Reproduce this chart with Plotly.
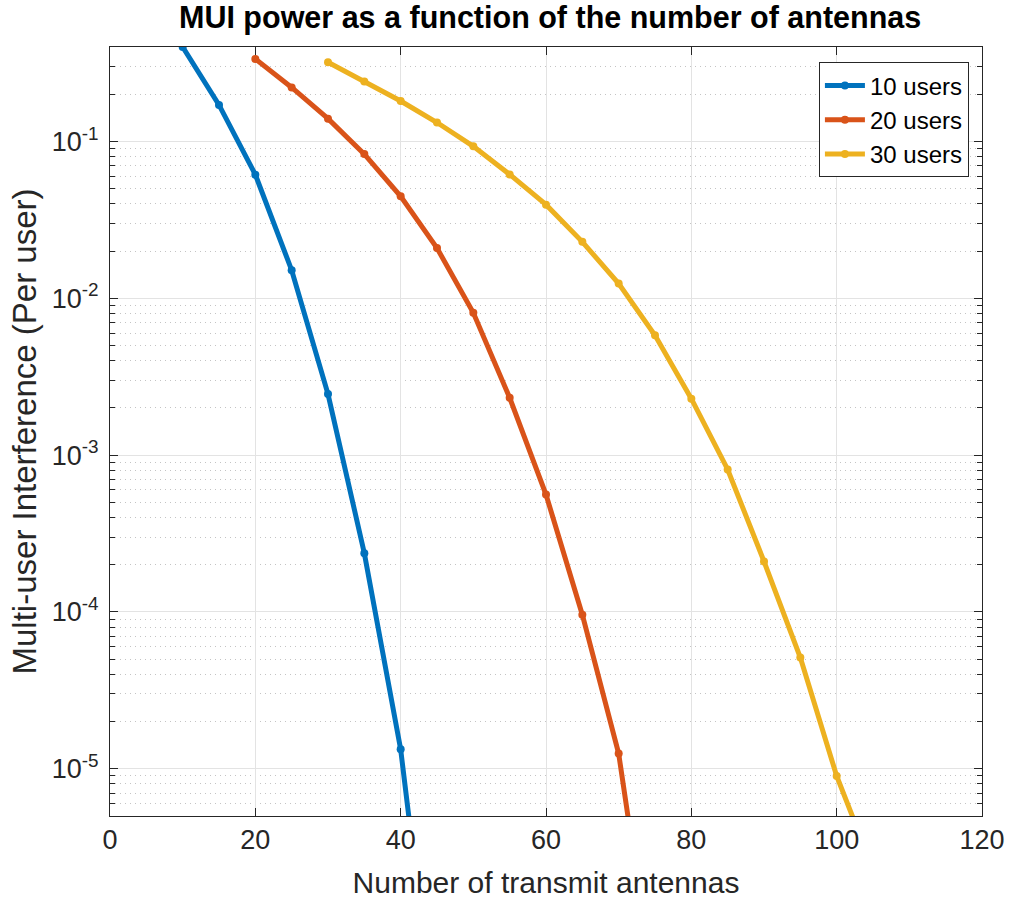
import numpy as np
import plotly.graph_objects as go

antennas_10 = [10, 15, 20, 25, 30, 35, 40, 45]
mui_10 = [0.40, 0.171, 0.0614, 0.0151, 0.00245, 2.37e-4, 1.33e-5, 1.64e-7]

antennas_20 = [20, 25, 30, 35, 40, 45, 50, 55, 60, 65, 70, 75]
mui_20 = [0.336, 0.221, 0.1396, 0.083, 0.0447, 0.0209, 0.00807, 0.00232,
          5.6e-4, 9.6e-5, 1.25e-5, 3.4e-7]

antennas_30 = [30, 35, 40, 45, 50, 55, 60, 65, 70, 75, 80, 85, 90, 95, 100, 105]
mui_30 = [0.32, 0.241, 0.181, 0.132, 0.093, 0.0616, 0.0395, 0.0229, 0.0124,
          0.0058, 0.00229, 8.1e-4, 2.1e-4, 5.12e-5, 9.0e-6, 2.3e-6]

series = [
    ("10 users", antennas_10, mui_10, "#0072BD"),
    ("20 users", antennas_20, mui_20, "#D95319"),
    ("30 users", antennas_30, mui_30, "#EDB120"),
]

x_ticks = [0, 20, 40, 60, 80, 100, 120]
y_major = [1e-5, 1e-4, 1e-3, 1e-2, 1e-1]
y_major_text = ["10<sup>-5</sup>", "10<sup>-4</sup>", "10<sup>-3</sup>",
                "10<sup>-2</sup>", "10<sup>-1</sup>"]
y_minor = [m * 10.0 ** e for e in range(-6, 0) for m in range(2, 10)]

FONT = "Liberation Sans"
AX = "#262626"

fig = go.Figure()
for name, xs, ys, col in series:
    fig.add_trace(go.Scatter(
        x=xs, y=ys, name=name, mode="lines+markers", legendgroup=name,
        line=dict(color=col, width=5),
        marker=dict(color=col, size=8, symbol="circle"),
    ))

fig.update_layout(
    width=1017, height=905,
    margin=dict(l=110, r=27, t=47, b=88),
    paper_bgcolor="white", plot_bgcolor="white",
    font=dict(family=FONT, color=AX),
    title=dict(text="<b>MUI power as a function of the number of antennas</b>",
               x=0.5409, xanchor="center", y=0.981, yanchor="middle",
               font=dict(family=FONT, size=30.5, color="black")),
    legend=dict(x=0.985, y=0.980, xanchor="right", yanchor="top",
                bgcolor="white", bordercolor="#262626", borderwidth=1,
                font=dict(family=FONT, size=24, color="black"),
                tracegroupgap=0, itemwidth=40),
    showlegend=True,
)

fig.update_xaxes(
    range=[0, 120], tickvals=x_ticks, ticks="inside", ticklen=8,
    tickcolor=AX, showline=True, linecolor=AX, linewidth=1, mirror="ticks",
    showgrid=True, gridcolor="#e3e3e3", gridwidth=1, zeroline=False,
    tickfont=dict(family=FONT, size=27, color=AX),
    title=dict(text="Number of transmit antennas",
               font=dict(family=FONT, size=30, color=AX), standoff=17),
)

fig.update_yaxes(
    type="log", range=[np.log10(5e-6), np.log10(0.4)],
    tickvals=y_major, ticktext=y_major_text, ticks="inside", ticklen=8,
    tickcolor=AX, showline=True, linecolor=AX, linewidth=1, mirror="ticks",
    showgrid=True, gridcolor="#e3e3e3", gridwidth=1, zeroline=False,
    tickfont=dict(family=FONT, size=27, color=AX), ticklabelstandoff=5,
    minor=dict(tickvals=y_minor, ticks="inside", ticklen=5, tickcolor=AX,
               showgrid=True, gridcolor="#c4c4c4", griddash="1px,4px",
               gridwidth=1),
    title=dict(text="Multi-user Interference (Per user)",
               font=dict(family=FONT, size=33, color=AX), standoff=5),
)

fig.write_html("out.html")
